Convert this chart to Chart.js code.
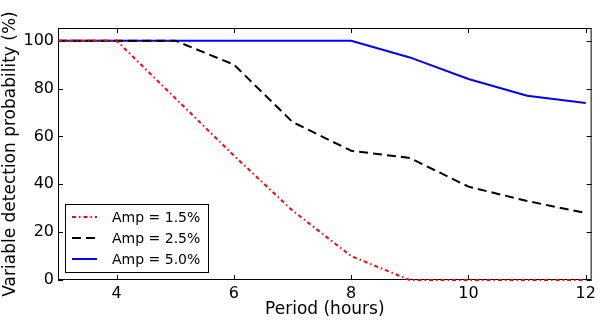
<!DOCTYPE html>
<html>
<head>
<meta charset="utf-8">
<script src="https://cdn.jsdelivr.net/npm/chart.js@4.4.0/dist/chart.umd.min.js"></script>
<style>
  html, body { margin: 0; padding: 0; background: #fff; }
  #wrap { width: 600px; height: 322px; }
</style>
</head>
<body>
<div id="wrap"><canvas id="chart" width="600" height="322"></canvas></div>
<script>
const periods = [3, 4, 5, 6, 7, 8, 9, 10, 11, 12];
const amp15 = [100, 100, 76, 52, 29, 10, 0, 0, 0, 0];
const amp25 = [100, 100, 100, 90, 66, 54, 51, 39, 33, 28];
const amp50 = [100, 100, 100, 100, 100, 100, 93, 84, 77, 74];
const seriesLabels = ['Amp = 1.5%', 'Amp = 2.5%', 'Amp = 5.0%'];
const xTicks = [4, 6, 8, 10, 12];
const yTicks = [0, 20, 40, 60, 80, 100];

const FONT = "'DejaVu Sans', sans-serif";

function pts(values) {
    return periods.map((p, i) => ({ x: p, y: values[i] }));
}

// matplotlib style frame with inward ticks on all four sides
const frame = {
    id: 'frame',
    beforeDatasetsDraw(chart) {
        const { ctx, chartArea: a, scales } = chart;
        ctx.save();
        ctx.strokeStyle = '#000';
        ctx.lineWidth = 1;
        ctx.strokeRect(a.left + 0.5, a.top + 0.5, a.right - a.left - 1, a.bottom - a.top - 1);
        ctx.beginPath();
        xTicks.forEach(v => {
            const x = Math.round(scales.x.getPixelForValue(v)) + 0.5;
            ctx.moveTo(x, a.bottom); ctx.lineTo(x, a.bottom - 5);
            ctx.moveTo(x, a.top); ctx.lineTo(x, a.top + 5);
        });
        yTicks.forEach(v => {
            const y = Math.round(scales.y.getPixelForValue(v)) + 0.5;
            ctx.moveTo(a.left, y); ctx.lineTo(a.left + 5, y);
            ctx.moveTo(a.right, y); ctx.lineTo(a.right - 5, y);
        });
        ctx.stroke();
        ctx.restore();
    },
    afterDatasetsDraw(chart) {
        const { ctx, chartArea: a } = chart;
        // legend box, lower left inside the axes
        const bx = a.left + 7, by = a.bottom - 76, bw = 143, bh = 68;
        ctx.save();
        ctx.fillStyle = '#fff';
        ctx.fillRect(bx, by, bw, bh);
        ctx.strokeStyle = '#000';
        ctx.lineWidth = 1;
        ctx.strokeRect(bx + 0.5, by + 0.5, bw, bh);
        ctx.font = '14px ' + FONT;
        ctx.textBaseline = 'middle';
        chart.data.datasets.forEach((ds, i) => {
            const y = by + 13 + i * 21;
            ctx.beginPath();
            ctx.strokeStyle = ds.borderColor;
            ctx.lineWidth = ds.borderWidth;
            ctx.setLineDash(ds.borderDash || []);
            ctx.moveTo(bx + 7, y); ctx.lineTo(bx + 32, y);
            ctx.stroke();
            ctx.setLineDash([]);
            ctx.fillStyle = '#000';
            ctx.fillText(ds.label, bx + 47, y + 1);
        });
        ctx.restore();
    }
};

new Chart(document.getElementById('chart'), {
    type: 'line',
    data: {
        datasets: [
            { label: seriesLabels[0], data: pts(amp15), borderColor: '#ff0000', borderWidth: 2, borderDash: [4, 3, 1.5, 3], clip: 3 },
            { label: seriesLabels[1], data: pts(amp25), borderColor: '#000000', borderWidth: 2, borderDash: [9, 5], clip: 3 },
            { label: seriesLabels[2], data: pts(amp50), borderColor: '#0000ff', borderWidth: 2, clip: 3 }
        ]
    },
    options: {
        responsive: false,
        animation: false,
        elements: { point: { radius: 0 }, line: { tension: 0 } },
        layout: { padding: { top: 28, right: 6, left: 0, bottom: 0 } },
        plugins: { legend: { display: false }, tooltip: { enabled: false } },
        scales: {
            x: {
                type: 'linear', min: 3, max: 12.1,
                afterBuildTicks: s => { s.ticks = xTicks.map(v => ({ value: v })); },
                afterFit: s => { s.height = 42; },
                grid: { display: false, drawTicks: false },
                border: { display: false },
                ticks: { color: '#000', font: { family: FONT, size: 16 }, padding: 4, maxRotation: 0 },
                title: { display: true, text: 'Period (hours)', color: '#000', font: { family: FONT, size: 17 }, padding: { top: 0, bottom: 2 } }
            },
            y: {
                min: 0, max: 105.3,
                afterBuildTicks: s => { s.ticks = yTicks.map(v => ({ value: v })); },
                afterFit: s => { s.width = 58; },
                grid: { display: false, drawTicks: false },
                border: { display: false },
                ticks: { color: '#000', font: { family: FONT, size: 16 }, padding: 4 },
                title: { display: true, text: 'Variable detection probability (%)', color: '#000', font: { family: FONT, size: 17 }, padding: { top: 0, bottom: 0 } }
            }
        }
    },
    plugins: [frame]
});
</script>
</body>
</html>
